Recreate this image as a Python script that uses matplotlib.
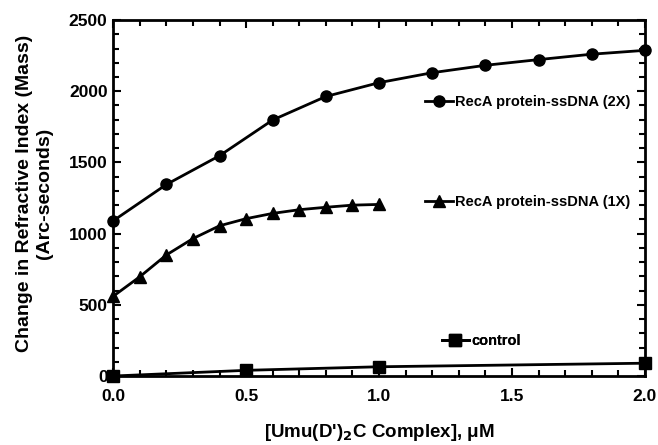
import matplotlib.pyplot as plt
from matplotlib.ticker import MultipleLocator

plt.rcParams['font.family'] = ['Liberation Sans', 'DejaVu Sans']
plt.rcParams['font.weight'] = 'bold'

# RecA protein-ssDNA (2X)
x_2x = [0.0, 0.2, 0.4, 0.6, 0.8, 1.0, 1.2, 1.4, 1.6, 1.8, 2.0]
y_2x = [1090, 1345, 1547, 1798, 1963, 2060, 2130, 2182, 2222, 2260, 2287]

# RecA protein-ssDNA (1X)
x_1x = [0.0, 0.1, 0.2, 0.3, 0.4, 0.5, 0.6, 0.7, 0.8, 0.9, 1.0]
y_1x = [560, 697, 850, 965, 1055, 1105, 1142, 1168, 1185, 1200, 1205]

# control
x_ctl = [0.0, 0.5, 1.0, 2.0]
y_ctl = [0, 40, 65, 90]

labels = ['RecA protein-ssDNA (2X)', 'RecA protein-ssDNA (1X)', 'control']

fig = plt.figure(figsize=(6.58, 4.45), dpi=100)
ax = fig.add_axes([0.172, 0.155, 0.808, 0.80])

l1, = ax.plot(x_2x, y_2x, 'k-', marker='o', ms=8, lw=2, clip_on=False)
l2, = ax.plot(x_1x, y_1x, 'k-', marker='^', ms=8, lw=2, clip_on=False)
l3, = ax.plot(x_ctl, y_ctl, 'k-', marker='s', ms=8, lw=2, clip_on=False)

ax.set_xlim(0, 2.0)
ax.set_ylim(0, 2500)
ax.xaxis.set_major_locator(MultipleLocator(0.5))
ax.xaxis.set_minor_locator(MultipleLocator(0.1))
ax.yaxis.set_major_locator(MultipleLocator(500))
ax.yaxis.set_minor_locator(MultipleLocator(100))
ax.xaxis.set_major_formatter(plt.FormatStrFormatter('%.1f'))
ax.tick_params(which='both', direction='in', top=True, right=True, width=1.5,
               labelsize=12.5)
ax.tick_params(axis='x', pad=9)
ax.tick_params(axis='y', pad=4)
ax.tick_params(which='major', length=6)
ax.tick_params(which='minor', length=4)
for s in ax.spines.values():
    s.set_linewidth(2)

ax.set_xlabel("[Umu(D')$_\\mathbf{2}$C Complex], \u03bcM", fontsize=13.5,
              fontweight='bold')
ax.xaxis.set_label_coords(0.5, -0.128)
ax.set_ylabel('Change in Refractive Index (Mass)\n(Arc-seconds)', fontsize=14,
              fontweight='bold', linespacing=1.25)
ax.yaxis.set_label_coords(-0.113, 0.514)

# three separate legend entries, placed like the labels in the figure
for h, lab, pos in [(l1, labels[0], (0.635, 0.77)),
                    (l2, labels[1], (0.635, 0.545)),
                    (l3, labels[2], (0.66, 0.233))]:
    lg = ax.legend([h], [lab], loc='center left', bbox_to_anchor=pos,
                   bbox_transform=fig.transFigure, frameon=False,
                   handlelength=1.9, handletextpad=0.15, borderpad=0,
                   prop={'size': 10.5, 'weight': 'bold'})
    ax.add_artist(lg)

fig.savefig('out.png', dpi=100)
